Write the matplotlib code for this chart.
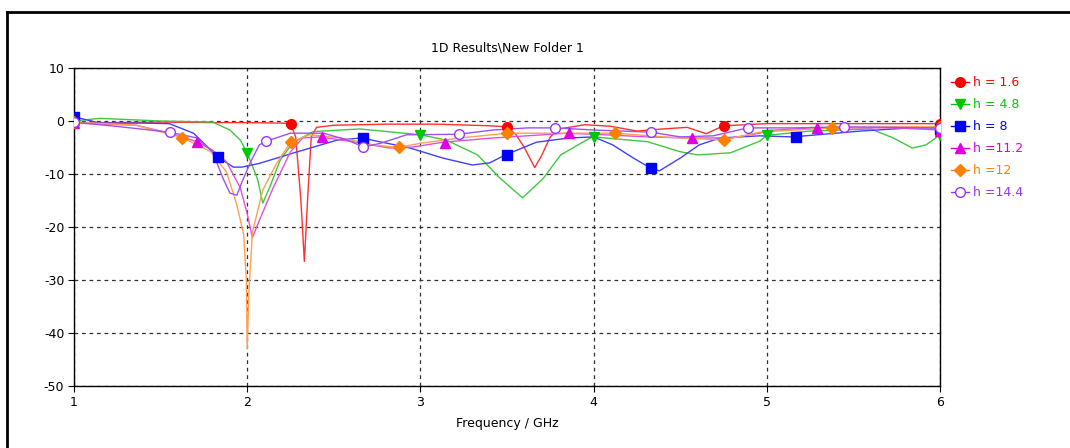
#!/usr/bin/env python3
import matplotlib.pyplot as plt
from matplotlib.lines import Line2D

plt.rcParams['axes.unicode_minus'] = False

# ---- data (frequency in GHz, level in dB) ----
red_f = [1.0, 1.2, 1.5, 1.8, 2.0, 2.2, 2.25, 2.28, 2.31, 2.33, 2.35, 2.37, 2.40, 2.5, 2.8,
         3.1, 3.4, 3.5, 3.55, 3.6, 3.66, 3.7, 3.75, 3.8, 3.95, 4.0, 4.1, 4.25, 4.4, 4.54,
         4.65, 4.75, 5.0, 5.5, 6.0]
red_db = [-0.3, -0.3, -0.2, -0.3, -0.3, -0.4, -0.5, -3.0, -15.0, -26.5, -14.0, -3.0, -1.2, -0.8, -0.6,
          -0.6, -0.9, -1.1, -2.5, -5.0, -8.8, -6.5, -3.0, -1.5, -0.7, -0.8, -1.0, -1.9, -1.5, -1.2,
          -2.4, -0.9, -0.5, -0.5, -0.5]
red_mf = [1.0, 2.25, 3.5, 4.75, 6.0]
red_mdb = [-0.4, -0.5, -1.1, -0.9, -0.5]

green_f = [1.0, 1.15, 1.5, 1.8, 1.9, 1.96, 2.0, 2.06, 2.09, 2.13, 2.19, 2.26, 2.38, 2.65, 3.0,
           3.15, 3.33, 3.46, 3.59, 3.71, 3.81, 3.98, 4.0, 4.31, 4.5, 4.6, 4.79, 4.96, 5.0,
           5.25, 5.6, 5.73, 5.84, 5.92, 6.0]
green_db = [0.0, 0.5, 0.0, -0.2, -1.7, -3.6, -6.0, -11.0, -15.5, -12.5, -7.4, -4.2, -2.0, -1.5, -2.6,
            -3.6, -6.4, -10.8, -14.5, -10.8, -6.4, -3.2, -3.0, -3.9, -5.8, -6.4, -6.0, -3.8, -2.7,
            -1.9, -1.5, -3.2, -5.1, -4.5, -2.6]
green_mf = [1.0, 2.0, 3.0, 4.0, 5.0, 6.0]
green_mdb = [-0.2, -6.0, -2.6, -3.1, -2.7, -2.6]

blue_f = [1.0, 1.15, 1.4, 1.55, 1.69, 1.83, 1.92, 1.97, 2.07, 2.26, 2.52, 2.66, 2.94, 3.13,
          3.3, 3.4, 3.49, 3.67, 3.86, 4.0, 4.11, 4.23, 4.33, 4.38, 4.5, 4.61, 4.73, 4.96,
          5.15, 5.54, 5.83, 6.0]
blue_db = [0.8, -0.4, -0.4, -0.5, -2.3, -6.8, -8.7, -8.7, -8.0, -6.1, -3.6, -3.2, -5.1, -7.0,
           -8.3, -7.9, -6.4, -4.0, -3.2, -3.0, -4.5, -7.0, -8.9, -9.4, -7.0, -4.5, -3.2, -2.8,
           -3.0, -1.9, -1.3, -1.3]
blue_mf = [1.0, 1.83, 2.67, 3.5, 4.33, 5.17, 6.0]
blue_mdb = [0.8, -6.8, -3.2, -6.4, -8.9, -3.0, -1.5]

mag_f = [1.0, 1.36, 1.55, 1.71, 1.8, 1.88, 1.96, 2.0, 2.03, 2.08, 2.15, 2.25, 2.32, 2.42, 2.63,
         2.82, 2.96, 3.13, 3.42, 3.71, 3.84, 4.0, 4.31, 4.55, 4.79, 4.96, 5.0, 5.26, 5.73, 6.0]
mag_db = [-0.4, -0.8, -2.3, -3.9, -5.5, -7.7, -12.6, -17.5, -22.0, -18.0, -12.6, -5.8, -3.2, -3.0, -4.0,
          -5.1, -4.9, -4.0, -3.2, -2.6, -2.3, -2.5, -3.0, -3.2, -3.2, -2.3, -1.8, -1.3, -1.3, -1.7]
mag_mf = [1.0, 1.71, 2.43, 3.14, 3.86, 4.57, 5.29, 6.0]
mag_mdb = [-0.3, -3.9, -3.0, -4.1, -2.3, -3.3, -1.4, -1.8]

org_f = [1.0, 1.36, 1.63, 1.79, 1.88, 1.94, 1.98, 1.995, 2.0, 2.01, 2.03, 2.09, 2.17, 2.25, 2.36,
         2.54, 2.73, 2.87, 3.0, 3.23, 3.5, 3.81, 3.98, 4.13, 4.4, 4.75, 4.96, 5.38, 5.73, 6.0]
org_db = [-0.2, -0.8, -3.2, -5.8, -9.6, -15.8, -21.5, -30.0, -43.0, -32.0, -21.0, -13.0, -8.0, -4.0, -2.6,
          -3.2, -4.5, -5.0, -4.2, -3.2, -2.3, -2.3, -2.3, -2.3, -3.0, -3.6, -2.1, -1.3, -1.1, -1.1]
org_mf = [1.0, 1.625, 2.25, 2.875, 3.5, 4.125, 4.75, 5.375, 6.0]
org_mdb = [-0.2, -3.2, -4.0, -5.0, -2.3, -2.3, -3.6, -1.3, -1.1]

pur_f = [1.0, 1.27, 1.55, 1.71, 1.8, 1.86, 1.9, 1.94, 1.97, 2.02, 2.07, 2.11, 2.25, 2.44, 2.58,
         2.67, 2.77, 2.92, 3.22, 3.42, 3.62, 3.78, 4.0, 4.33, 4.5, 4.69, 4.89, 5.15, 5.45, 6.0]
pur_db = [-0.2, -1.1, -2.1, -3.2, -5.8, -10.8, -13.6, -14.0, -11.5, -7.7, -4.5, -3.8, -2.3, -2.3, -3.6,
          -4.9, -4.2, -2.6, -2.5, -1.7, -1.3, -1.3, -1.7, -2.1, -3.0, -2.8, -1.3, -1.3, -1.1, -1.3]
pur_mf = [1.0, 1.556, 2.111, 2.667, 3.222, 3.778, 4.333, 4.889, 5.444, 6.0]
pur_mdb = [-0.2, -2.1, -3.8, -4.9, -2.5, -1.3, -2.1, -1.3, -1.1, -1.3]

labels = ['h = 1.6', 'h = 4.8', 'h = 8', 'h =11.2', 'h =12', 'h =14.4']

series = [
    (red_f, red_db, red_mf, red_mdb, '#ff3030', '#ff0000', 'o', '#ff0000'),
    (green_f, green_db, green_mf, green_mdb, '#40c840', '#00c800', 'v', '#00c800'),
    (blue_f, blue_db, blue_mf, blue_mdb, '#4040ff', '#0000ff', 's', '#0000ff'),
    (mag_f, mag_db, mag_mf, mag_mdb, '#e050e0', '#e000e0', '^', '#e000e0'),
    (org_f, org_db, org_mf, org_mdb, '#ffa050', '#ff8000', 'D', '#ff8000'),
    (pur_f, pur_db, pur_mf, pur_mdb, '#a050f0', '#9933ff', 'o', 'white'),
]

fig = plt.figure(figsize=(10.7, 4.48), dpi=100)
ax = fig.add_axes([74 / 1070, 1 - 386 / 448, 866 / 1070, 318 / 448])

handles = []
# draw in reverse so red stays on top
for i, (f, db, mf, mdb, lc, mc, mk, fc) in reversed(list(enumerate(series))):
    ms = 6 if mk == 'D' else 7
    ax.plot(f, db, color=lc, lw=1.0, zorder=3 + i * 0.01)
    ax.plot(mf, mdb, ls='none', marker=mk, ms=ms, mfc=fc, mec=mc, mew=1.0, zorder=4 + i * 0.01)
for i, (f, db, mf, mdb, lc, mc, mk, fc) in enumerate(series):
    handles.append(Line2D([], [], color=mc, lw=1.0, marker=mk, ms=7 if mk != 'D' else 6,
                          mfc=fc, mec=mc))

ax.set_xlim(1, 6)
ax.set_ylim(-50, 10)
ax.set_xticks([1, 2, 3, 4, 5, 6])
ax.set_yticks([10, 0, -10, -20, -30, -40, -50])
ax.tick_params(labelsize=9, length=4, width=0.8, direction='out', pad=3)
ax.grid(True, color='#303030', ls=(0, (3, 3)), lw=0.9)
for s in ax.spines.values():
    s.set_linewidth(1.0)
    s.set_color('black')

ax.set_title('1D Results\\New Folder 1', fontsize=9, pad=12)
ax.set_xlabel('Frequency / GHz', fontsize=9, labelpad=6)

leg = ax.legend(handles, labels, loc='upper left', bbox_to_anchor=(1.007, 0.99),
                frameon=False, fontsize=9, handlelength=1.4, handletextpad=0.35,
                labelspacing=0.72, borderaxespad=0)
for t, (_, _, _, _, lc, mc, _, _) in zip(leg.get_texts(), series):
    t.set_color(mc)

# outer frame (top and left edges)
fig.add_artist(Line2D([7 / 1070, 1.0], [1 - 12 / 448, 1 - 12 / 448], color='black', lw=2))
fig.add_artist(Line2D([7 / 1070, 7 / 1070], [0, 1 - 12 / 448], color='black', lw=2))

plt.savefig('out.png', dpi=100)
plt.close()
